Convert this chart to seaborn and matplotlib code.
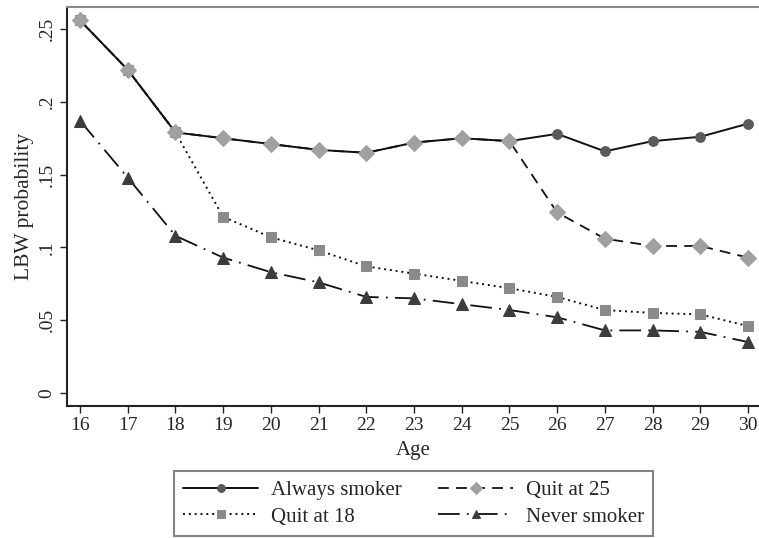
import matplotlib
matplotlib.use("Agg")
import matplotlib.pyplot as plt
import seaborn as sns
import pandas as pd

ages = list(range(16, 31))
always_smoker = [0.256, 0.222, 0.179, 0.175, 0.171, 0.167, 0.165, 0.172, 0.175, 0.173, 0.178, 0.166, 0.173, 0.176, 0.185]
quit_at_25 = [0.256, 0.222, 0.179, 0.175, 0.171, 0.167, 0.165, 0.172, 0.175, 0.173, 0.124, 0.106, 0.101, 0.101, 0.093]
quit_at_18 = [0.256, 0.222, 0.179, 0.121, 0.107, 0.098, 0.087, 0.082, 0.077, 0.072, 0.066, 0.057, 0.055, 0.054, 0.046]
never_smoker = [0.187, 0.148, 0.108, 0.093, 0.083, 0.076, 0.066, 0.065, 0.061, 0.057, 0.052, 0.043, 0.043, 0.042, 0.035]
yticks = [0, 0.05, 0.1, 0.15, 0.2, 0.25]
ytick_labels = ["0", ".05", ".1", ".15", ".2", ".25"]

sns.set_theme(style="white")
plt.rcParams["font.family"] = ["Liberation Serif", "DejaVu Serif"]

fig = plt.figure(figsize=(7.59, 5.38), dpi=100)
ax = fig.add_axes([66.7 / 759, 1 - 406 / 538, 1 - 66.7 / 759, (406 - 7) / 538])

series = [
    ("Always smoker", always_smoker, dict(color="#111111", ls="-", marker="o", mfc="#5a5a5a", mec="#5a5a5a", ms=7, lw=1.4)),
    ("Quit at 18", quit_at_18, dict(color="#111111", ls=(0, (1, 2)), marker="s", mfc="#8a8a8a", mec="#8a8a8a", ms=7, lw=1.4)),
    ("Quit at 25", quit_at_25, dict(color="#111111", ls=(0, (6, 4)), marker="D", mfc="#a0a0a0", mec="#a0a0a0", ms=8, lw=1.3)),
    ("Never smoker", never_smoker, dict(color="#111111", ls=(0, (12, 4, 1, 4)), marker="^", mfc="#3c3c3c", mec="#3c3c3c", ms=8, lw=1.3)),
]
handles = {}
for name, vals, st in series:
    df = pd.DataFrame({"Age": ages, "p": vals})
    sns.lineplot(data=df, x="Age", y="p", ax=ax, color=st["color"], linestyle=st["ls"],
                 marker=st["marker"], markerfacecolor=st["mfc"], markeredgecolor=st["mec"],
                 markersize=st["ms"], linewidth=st["lw"], label=name)
    handles[name] = ax.lines[-1]

ax.set_xlim(16 - 13.3 / 47.7, 30 + 11 / 47.7)
ax.set_ylim(-13 / 1457, (393.3 - 7) / 1457)
ax.set_xticks(ages)
ax.set_yticks(yticks)
ax.set_yticklabels(ytick_labels, rotation=90, va="center")
ax.tick_params(axis="both", direction="out", length=5, width=1, color="#222222", labelsize=14, pad=3,
               bottom=True, left=True)
ax.set_xlabel("Age", fontsize=15, labelpad=5)
ax.set_ylabel("LBW probability", fontsize=15.5, labelpad=3)

for s in ["left", "bottom"]:
    ax.spines[s].set_color("#222222")
    ax.spines[s].set_linewidth(1.5)
ax.spines["top"].set_color("#888888")
ax.spines["top"].set_linewidth(1.5)
ax.spines["right"].set_visible(False)

ax.get_legend().remove()
order = ["Always smoker", "Quit at 18", "Quit at 25", "Never smoker"]
leg = fig.legend([handles[n] for n in order], order, loc="center",
                 bbox_to_anchor=(413.5 / 759, 1 - 503.5 / 538), ncol=2, fontsize=15,
                 frameon=True, fancybox=False, edgecolor="#666666", handlelength=3.6,
                 columnspacing=1.75, borderpad=0.45, labelspacing=0.35, handletextpad=0.6,
                 borderaxespad=0, markerscale=0.8)
leg.get_frame().set_linewidth(1.5)

fig.savefig("out.png", dpi=100)
